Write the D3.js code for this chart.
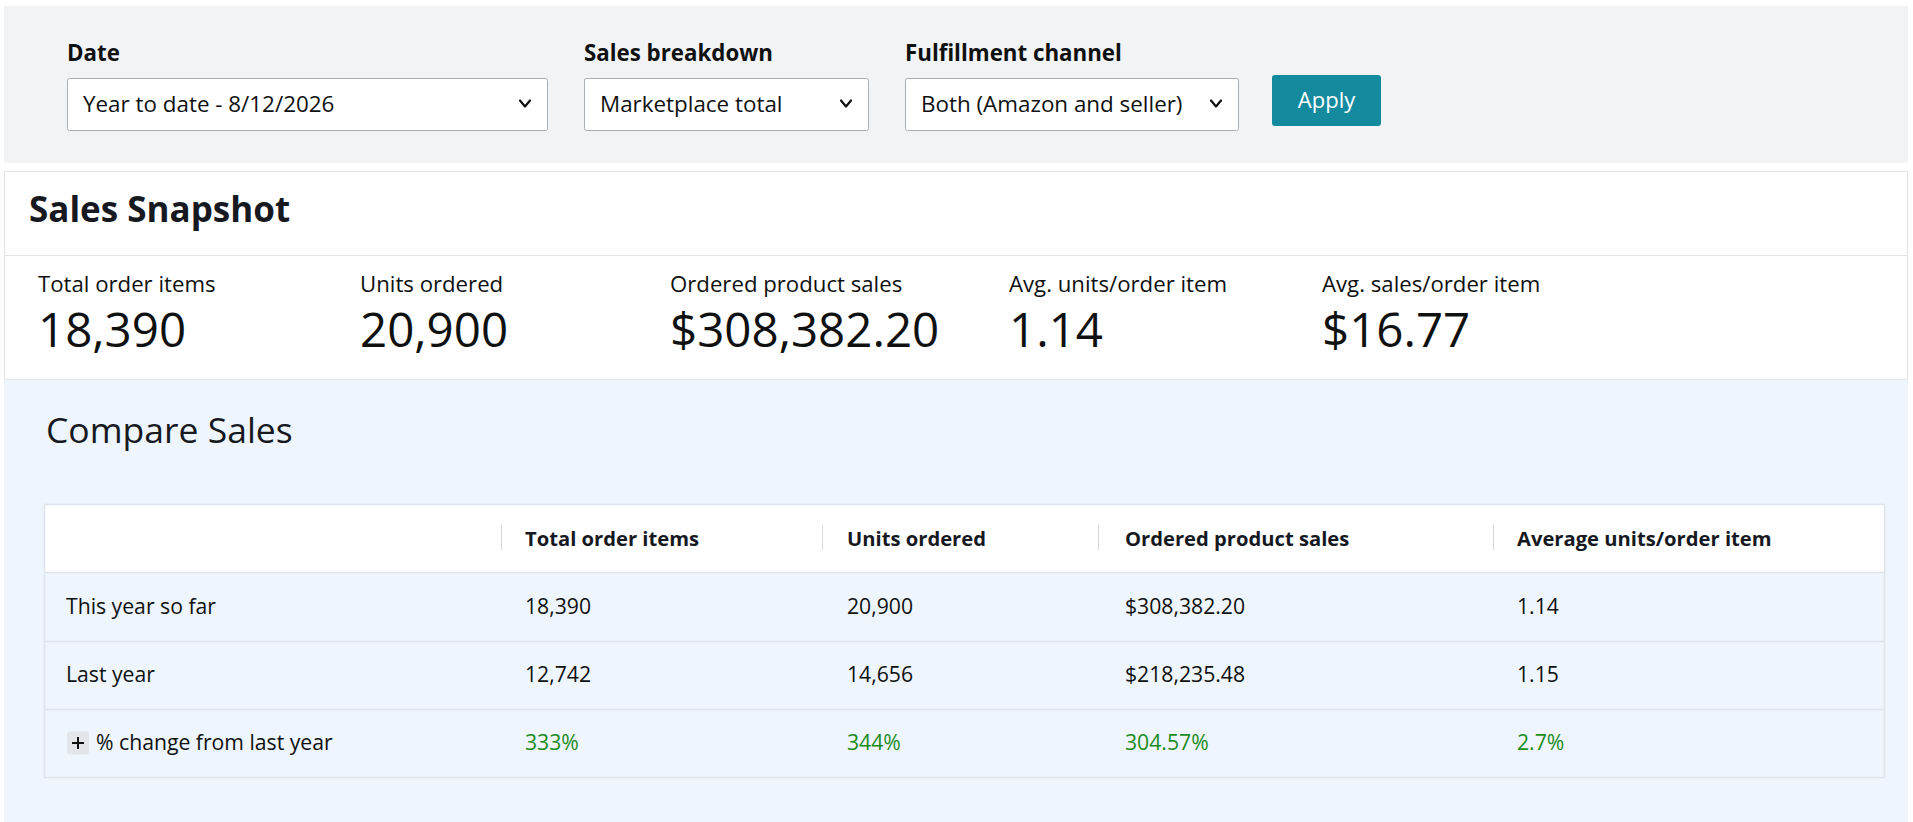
<!DOCTYPE html>
<html>
<head>
<meta charset="utf-8">
<script src="https://cdn.jsdelivr.net/npm/d3@7"></script>
<style>
  html, body { margin: 0; padding: 0; background: #ffffff; }
  svg { display: block; font-family: "Open Sans", "Noto Sans", sans-serif; }
</style>
</head>
<body>
<svg id="chart" width="1913" height="822"></svg>
<script>
// ---------------- DATA ----------------
const filterLabels = ["Date", "Sales breakdown", "Fulfillment channel"];
const filterValues = ["Year to date - 8/12/2026", "Marketplace total", "Both (Amazon and seller)"];
const applyLabel = "Apply";

const snapshotTitle = "Sales Snapshot";
const snapshotMetrics = ["Total order items", "Units ordered", "Ordered product sales", "Avg. units/order item", "Avg. sales/order item"];
const snapshotValues = [18390, 20900, 308382.20, 1.14, 16.77];
const snapshotFormats = [",", ",", "$,.2f", ".2f", "$,.2f"];

const compareTitle = "Compare Sales";
const tableColumns = ["Total order items", "Units ordered", "Ordered product sales", "Average units/order item"];
const tableRowLabels = ["This year so far", "Last year", "% change from last year"];
const thisYearValues = [18390, 20900, 308382.20, 1.14];
const lastYearValues = [12742, 14656, 218235.48, 1.15];
const pctChangeValues = [333, 344, 304.57, 2.7];
const columnFormats = [",", ",", "$,.2f", ".2f"];

// ---------------- STYLE ----------------
const C = {
  text: "#0f1111",
  title: "#16191f",
  filterBg: "#f2f3f4",
  panelBorder: "#e3e6e8",
  blueBg: "#eef5fc",
  tableBorder: "#dfe4ea",
  sep: "#d5dbdb",
  ddBorder: "#a9b0b5",
  apply: "#148a9f",
  green: "#1c8c1c",
  plusBg: "#e2e6ea"
};

const svg = d3.select("#chart");

// ---------------- FILTER BAR ----------------
svg.append("rect").attr("x", 4).attr("y", 6).attr("width", 1904).attr("height", 157).attr("fill", C.filterBg);

const fx = d3.scaleOrdinal(filterLabels, [67, 584, 905]);
const fw = d3.scaleOrdinal(filterLabels, [480, 284, 333]);

const filt = svg.append("g").selectAll("g").data(filterLabels).join("g");
filt.append("text")
  .attr("x", d => fx(d)).attr("y", 61)
  .attr("font-size", 22.3).attr("font-weight", 700).attr("fill", C.text)
  .text(d => d);
filt.append("rect")
  .attr("x", d => fx(d) + 0.5).attr("y", 78.5)
  .attr("width", d => fw(d)).attr("height", 52)
  .attr("rx", 2).attr("fill", "#ffffff").attr("stroke", C.ddBorder).attr("stroke-width", 1);
filt.append("text")
  .attr("x", d => fx(d) + 16).attr("y", 112)
  .attr("font-size", 22.4).attr("fill", C.text)
  .text((d, i) => filterValues[i]);
filt.append("path")
  .attr("d", d => {
    const cx = fx(d) + fw(d) - 22, cy = 104;
    return `M${cx - 5},${cy - 3.5}L${cx},${cy + 2.5}L${cx + 5},${cy - 3.5}`;
  })
  .attr("fill", "none").attr("stroke", C.text).attr("stroke-width", 2.2)
  .attr("stroke-linecap", "round").attr("stroke-linejoin", "round");

// Apply button
svg.append("rect").attr("x", 1272).attr("y", 75).attr("width", 109).attr("height", 51)
  .attr("rx", 3).attr("fill", C.apply);
svg.append("text").attr("x", 1326.5).attr("y", 108).attr("text-anchor", "middle")
  .attr("font-size", 22).attr("fill", "#ffffff").text(applyLabel);

// ---------------- SALES SNAPSHOT ----------------
svg.append("rect").attr("x", 4.5).attr("y", 171.5).attr("width", 1903).attr("height", 208)
  .attr("fill", "#ffffff").attr("stroke", C.panelBorder);
svg.append("line").attr("x1", 4.5).attr("x2", 1907.5).attr("y1", 255.5).attr("y2", 255.5)
  .attr("stroke", C.panelBorder);
svg.append("text").attr("x", 29).attr("y", 222)
  .attr("font-size", 35).attr("font-weight", 700).attr("fill", C.title).text(snapshotTitle);

const mx = d3.scaleOrdinal(snapshotMetrics, [38, 360, 670, 1009, 1322]);
const met = svg.append("g").selectAll("g").data(snapshotMetrics).join("g");
met.append("text").attr("x", d => mx(d)).attr("y", 292)
  .attr("font-size", 22.2).attr("fill", C.text).text(d => d);
met.append("text").attr("x", d => mx(d)).attr("y", 347)
  .attr("font-size", 47.5).attr("fill", C.text)
  .text((d, i) => d3.format(snapshotFormats[i])(snapshotValues[i]));

// ---------------- COMPARE SALES ----------------
svg.append("rect").attr("x", 4).attr("y", 380).attr("width", 1904).attr("height", 442).attr("fill", C.blueBg);
svg.append("text").attr("x", 46).attr("y", 443)
  .attr("font-size", 35.5).attr("fill", C.title).text(compareTitle);

const rowKeys = ["header", ...tableRowLabels];
const y = d3.scaleBand(rowKeys, [504, 777]);
const colKeys = ["label", ...tableColumns];
const cx = d3.scaleOrdinal(colKeys, [66, 525, 847, 1125, 1517]);
const sepX = d3.scaleOrdinal(tableColumns, [501, 822, 1098, 1493]);
const tableX0 = 44.5, tableX1 = 1884.5;

// header background
svg.append("rect").attr("x", tableX0).attr("y", y("header")).attr("width", tableX1 - tableX0)
  .attr("height", y.bandwidth()).attr("fill", "#ffffff");
// body rows
svg.append("g").selectAll("rect").data(tableRowLabels).join("rect")
  .attr("x", tableX0).attr("y", d => y(d)).attr("width", tableX1 - tableX0)
  .attr("height", y.bandwidth()).attr("fill", C.blueBg);
// horizontal lines
svg.append("g").selectAll("line").data(tableRowLabels).join("line")
  .attr("x1", tableX0).attr("x2", tableX1)
  .attr("y1", d => Math.round(y(d)) + 0.5).attr("y2", d => Math.round(y(d)) + 0.5)
  .attr("stroke", C.tableBorder).attr("stroke-width", 1.5);
// outer border
svg.append("rect").attr("x", tableX0).attr("y", y("header") + 0.5)
  .attr("width", tableX1 - tableX0).attr("height", 777 - y("header"))
  .attr("fill", "none").attr("stroke", C.tableBorder).attr("stroke-width", 1.5);

// header separators
svg.append("g").selectAll("line").data(tableColumns).join("line")
  .attr("x1", d => sepX(d) + 0.5).attr("x2", d => sepX(d) + 0.5)
  .attr("y1", y("header") + 21).attr("y2", y("header") + 46)
  .attr("stroke", C.sep).attr("stroke-width", 1);
// header text
svg.append("g").selectAll("text").data(tableColumns).join("text")
  .attr("x", d => cx(d)).attr("y", y("header") + y.bandwidth() / 2 + 7.5)
  .attr("font-size", 20.2).attr("font-weight", 700).attr("fill", C.title).text(d => d);

// body
const rowData = [thisYearValues, lastYearValues, pctChangeValues];
tableRowLabels.forEach((row, ri) => {
  const g = svg.append("g");
  const yb = y(row) + y.bandwidth() / 2 + 7.5;
  let lx = cx("label");
  if (ri === 2) {
    const yc = y(row) + y.bandwidth() / 2;
    g.append("rect").attr("x", lx + 1).attr("y", yc - 11.5).attr("width", 22).attr("height", 23)
      .attr("rx", 3).attr("fill", C.plusBg);
    g.append("path")
      .attr("d", `M${lx + 6},${yc}L${lx + 18},${yc}M${lx + 12},${yc - 6}L${lx + 12},${yc + 6}`)
      .attr("stroke", C.text).attr("stroke-width", 2);
    lx += 30;
  }
  g.append("text").attr("x", lx).attr("y", yb).attr("font-size", 21.2).attr("fill", C.text).text(row);
  g.selectAll("text.v").data(tableColumns).join("text").attr("class", "v")
    .attr("x", d => cx(d)).attr("y", yb).attr("font-size", 21.2)
    .attr("fill", ri === 2 ? C.green : C.text)
    .text((d, i) => ri === 2 ? pctChangeValues[i] + "%" : d3.format(columnFormats[i])(rowData[ri][i]));
});
</script>
</body>
</html>
